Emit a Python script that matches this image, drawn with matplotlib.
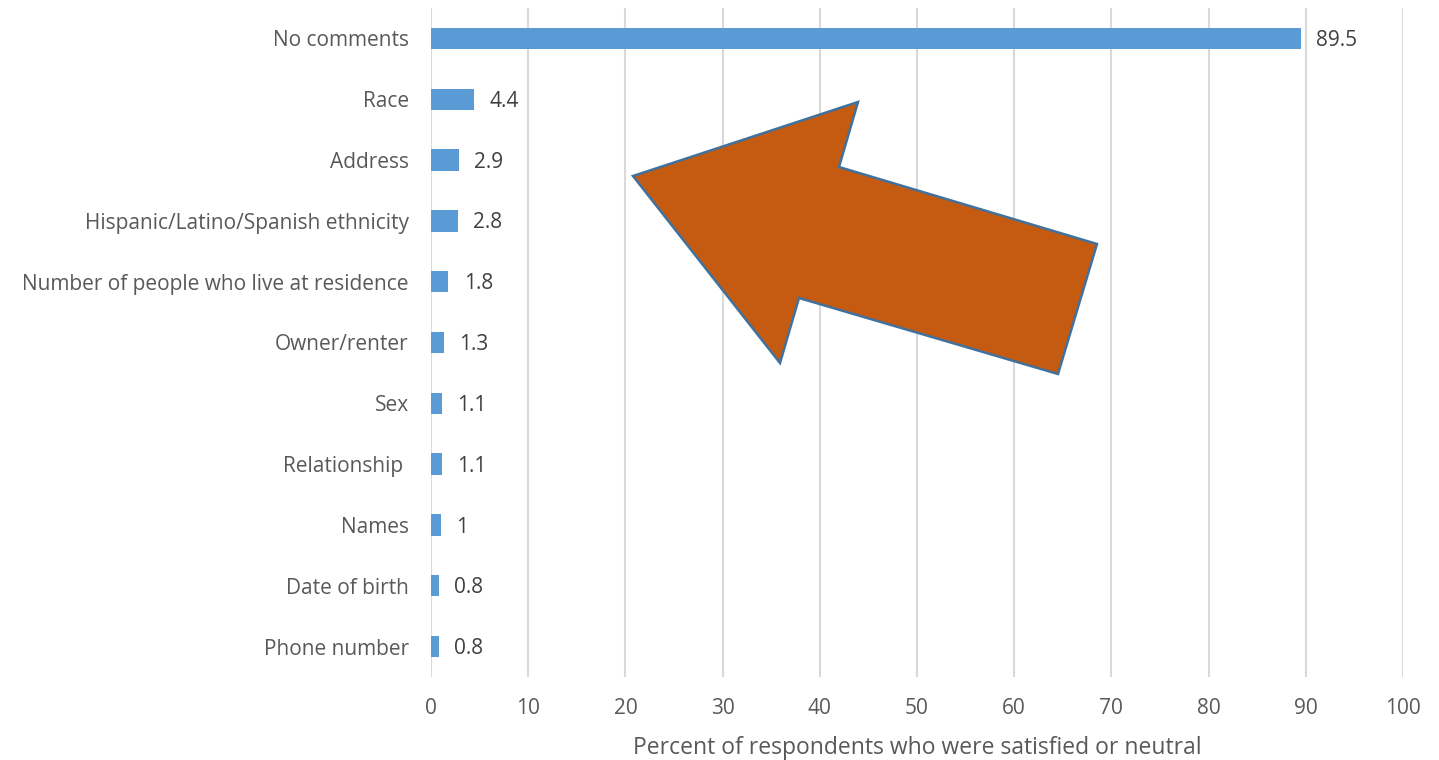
import matplotlib
matplotlib.use("Agg")
import matplotlib.pyplot as plt
from matplotlib.patches import Polygon

categories = ["No comments", "Race", "Address", "Hispanic/Latino/Spanish ethnicity",
              "Number of people who live at residence", "Owner/renter", "Sex",
              "Relationship ", "Names", "Date of birth", "Phone number"]
values = [89.5, 4.4, 2.9, 2.8, 1.8, 1.3, 1.1, 1.1, 1, 0.8, 0.8]
value_labels = ["89.5", "4.4", "2.9", "2.8", "1.8", "1.3", "1.1", "1.1", "1", "0.8", "0.8"]
xticks = [0, 10, 20, 30, 40, 50, 60, 70, 80, 90, 100]
xlabel = "Percent of respondents who were satisfied or neutral"

plt.rcParams['font.family'] = ['Open Sans', 'DejaVu Sans']
text_color = "#595959"

W, H = 1439, 760
fig = plt.figure(figsize=(W / 100, H / 100), dpi=100)
ax_left, ax_right, ax_top, ax_bottom = 431, 1403, 8, 677
ax = fig.add_axes([ax_left / W, 1 - ax_bottom / H, (ax_right - ax_left) / W, (ax_bottom - ax_top) / H])

ypos = list(range(len(categories)))
ax.barh(ypos, values, height=0.35, color="#5B9BD5", zorder=3)
for y, v, lab in zip(ypos, values, value_labels):
    ax.annotate(lab, (v, y), xytext=(11, -1.5), textcoords="offset points",
                va="center", ha="left", fontsize=15, color="#404040")

ax.set_xlim(0, 100)
ax.set_ylim(len(categories) - 0.5, -0.5)
ax.set_xticks(xticks)
ax.set_xticklabels([str(t) for t in xticks])
ax.set_yticks(ypos)
ax.set_yticklabels(categories)
ax.tick_params(axis="both", length=0, labelsize=15, colors=text_color)
ax.tick_params(axis="y", pad=16)
ax.tick_params(axis="x", pad=15)
ax.grid(axis="x", color="#D9D9D9", linewidth=1.5, zorder=0)
for s in ax.spines.values():
    s.set_visible(False)
ax.set_xlabel(xlabel, fontsize=16.5, color=text_color, labelpad=12)

# Arrow annotation shape (figure pixel positions)
arrow_px = [(633, 176), (858, 102), (839, 167), (1097, 244), (1058, 374), (799, 298), (780, 363)]
arrow_fig = [(x / W, 1 - y / H) for x, y in arrow_px]
fig.patches.append(Polygon(arrow_fig, closed=True, transform=fig.transFigure,
                           facecolor="#C55A11", edgecolor="#41719C", linewidth=1.8, zorder=10))

fig.savefig("out.png", dpi=100)
